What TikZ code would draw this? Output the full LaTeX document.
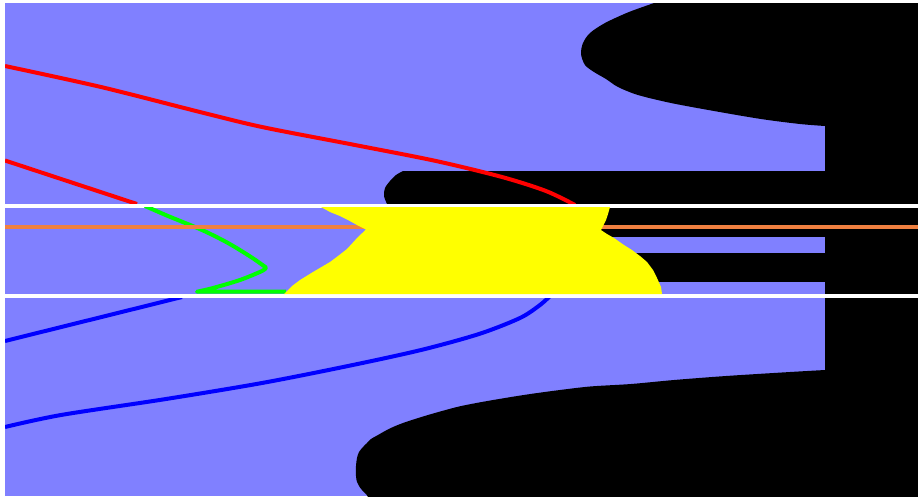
\documentclass[tikz,border=0pt]{standalone}
\usepackage{tikz}
\usepackage{xcolor}
\definecolor{field}{HTML}{8080FF}
\definecolor{rayred}{HTML}{FF0000}
\definecolor{raygreen}{HTML}{00FF00}
\definecolor{rayblue}{HTML}{0000FF}
\definecolor{axis}{HTML}{F08040}
\definecolor{core}{HTML}{FFFF00}

\begin{document}
\begin{tikzpicture}[
    x=1pt, y=-1pt,
    field/.style={fill=field},
    void/.style={fill=black},
    core/.style={fill=core},
    ray/.style={line width=4pt, line join=round},
    axisline/.style={draw=axis, line width=4pt},
]
    \useasboundingbox (0,0) rectangle (918,496);
    \fill[white] (0,0) rectangle (918,496);

    % Upper band
    \begin{scope}
        \clip (5,3) rectangle (918,203.5);
        \fill[field] (5,3) rectangle (918,203.5);
        \fill[void] (657,2) -- plot[smooth, tension=0.5] coordinates {(657,2) (629,12) (605,23) (590,33) (583,43) (581,54) (585,65) (594,72) (606,79) (618,87) (638,95) (671,103) (714,111) (761,119) (800,124) (825,126)}
            -- (825,171) -- (403,171)
            -- plot[smooth, tension=0.5] coordinates {(403,171) (396,175) (390,181) (385,188) (384,196) (387,204)}
            -- (918,204) -- (918,2) -- cycle;
        \draw[ray, rayred] plot[smooth, tension=0.5] coordinates {(5,66) (101,87) (196,111) (262,127) (355,145) (436,161) (502,177) (546,191) (575,205)};
        \draw[ray, rayred] (5,160.5) -- (137,204);
    \end{scope}

    % Middle band
    \begin{scope}
        \clip (5,207.5) rectangle (918,294);
        \fill[field] (5,207.5) rectangle (918,294);
        \fill[void] (480,207.5) rectangle (918,294);
        \fill[field] (600,236.5) rectangle (825,252.7);
        \fill[field] (600,281.7) rectangle (825,294);
        \draw[ray, raygreen] plot[smooth, tension=0.5] coordinates {(145,206) (168,216) (202,230) (228,243) (251,257) (266,267.5)}
            -- plot[smooth, tension=0.5] coordinates {(266,267.5) (262,271) (240,280) (213,288) (197,291.7)}
            -- (286,291.7);
        \draw[axisline] (5,226.5) -- (918,226.5);
        \fill[core] (321,207) -- (330,212) -- (340,216) -- (348,220) -- (357,225) -- (366,229.5)
            -- (358,237) -- (347,249) -- (338,256) -- (330,262) -- (313,272) -- (300,280) -- (292,286) -- (284,294)
            -- (662,294) -- (661,287) -- (657,278) -- (653,270) -- (647,262) -- (640,256)
            -- (632,250) -- (624,245) -- (614,238) -- (607,234) -- (601,230)
            -- (603,226) -- (606,220) -- (608,214) -- (610,207) -- cycle;
    \end{scope}

    % Lower band
    \begin{scope}
        \clip (5,298) rectangle (918,496);
        \fill[field] (5,298) rectangle (918,496);
        \fill[void] (918,297) -- (825,297) -- (825,370)
            -- plot[smooth, tension=0.5] coordinates {(825,370) (790,372) (726,376) (674,380) (631,384) (590,386.5) (556,390.5) (527,394.5) (502,398.5) (479,402.5) (459,406.5) (442,411) (428,415) (415,419) (403,423) (393,427) (385,431) (378,435) (371,439) (367,443) (363,447) (359,452) (357,458) (356,466) (356,476) (357,482) (359,486) (362,490) (366,494) (368,497)}
            -- (918,497) -- cycle;
        \draw[ray, rayblue] (5,341) -- (182,297);
        \draw[ray, rayblue] plot[smooth, tension=0.5] coordinates {(5,427) (61,415) (166,399) (262,383) (348,366) (421,350) (479,334) (520,318) (540,305) (550,296)};
    \end{scope}
\end{tikzpicture}
\end{document}
